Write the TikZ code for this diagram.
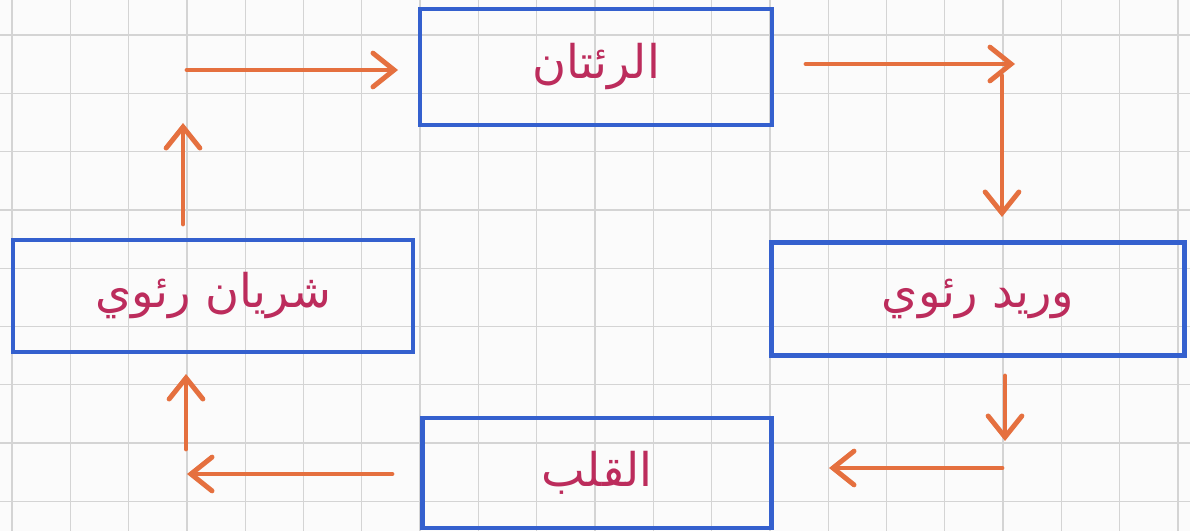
\documentclass[tikz,border=0pt]{standalone}
\usepackage{fontspec}
\newfontfamily\arabicfont[Script=Arabic]{DejaVu Sans}
\TeXXeTstate=1
\definecolor{boxblue}{RGB}{52,96,206}
\definecolor{flowred}{RGB}{229,112,63}
\definecolor{inkred}{RGB}{188,44,92}
\definecolor{gridgray}{RGB}{212,212,212}
\definecolor{paper}{RGB}{251,251,251}
\usepackage{tikz}
\usetikzlibrary{arrows.meta,positioning,calc}

\begin{document}
\begin{tikzpicture}[x=0.025cm,y=-0.025cm,
  organ/.style={draw=boxblue,line width=3.2pt,inner sep=0pt,text=inkred,
    font=\arabicfont\fontsize{33}{40}\selectfont},
  flow/.style={draw=flowred,line width=3.5pt,line cap=round,line join=round,
    -{Straight Barb[length=15pt,width=24pt,line cap=round]}},
  gridline/.style={draw=gridgray,line width=0.9pt}]
\useasboundingbox[fill=paper] (0,0) rectangle (1190,531);
% squared paper
\foreach \k in {0,...,20}{
  \draw[gridline] (12+\k*58.3,0) -- (12+\k*58.3,531);
}
\foreach \k in {0,...,8}{
  \draw[gridline] (0,35+\k*58.3) -- (1190,35+\k*58.3);
}
% boxes
\node[organ,minimum width=352*0.025cm,minimum height=116*0.025cm] (lungs) at (596,67)
  {\beginR الرئتان\endR};
\node[organ,minimum width=413*0.025cm,minimum height=113*0.025cm] (vein) at (978,299)
  {\beginR وريد رئوي\endR};
\node[organ,minimum width=349*0.025cm,minimum height=110*0.025cm] (heart) at (597,473)
  {\beginR القلب\endR};
\node[organ,minimum width=400*0.025cm,minimum height=112*0.025cm] (artery) at (213,296)
  {\beginR شريان رئوي\endR};
% arrow ends
\coordinate (a1) at (187,70);   \coordinate (a2) at (398,70);
\coordinate (b1) at (806,64);   \coordinate (b2) at (1015,64);
\coordinate (c1) at (1002,76);  \coordinate (c2) at (1002,217);
\coordinate (d1) at (1005,376); \coordinate (d2) at (1005,441);
\coordinate (e1) at (1002,468); \coordinate (e2) at (829,468);
\coordinate (f1) at (392,474);  \coordinate (f2) at (187,474);
\coordinate (g1) at (186,449);  \coordinate (g2) at (186,374);
\coordinate (h1) at (183,224);  \coordinate (h2) at (183,123);
% blood flow
\draw[flow] (a1) -- (a2);
\draw[flow] (b1) -- (b2);
\draw[flow] (c1) -- (c2);
\draw[flow] (d1) -- (d2);
\draw[flow] (e1) -- (e2);
\draw[flow] (f1) -- (f2);
\draw[flow] (g1) -- (g2);
\draw[flow] (h1) -- (h2);
\end{tikzpicture}
\end{document}
